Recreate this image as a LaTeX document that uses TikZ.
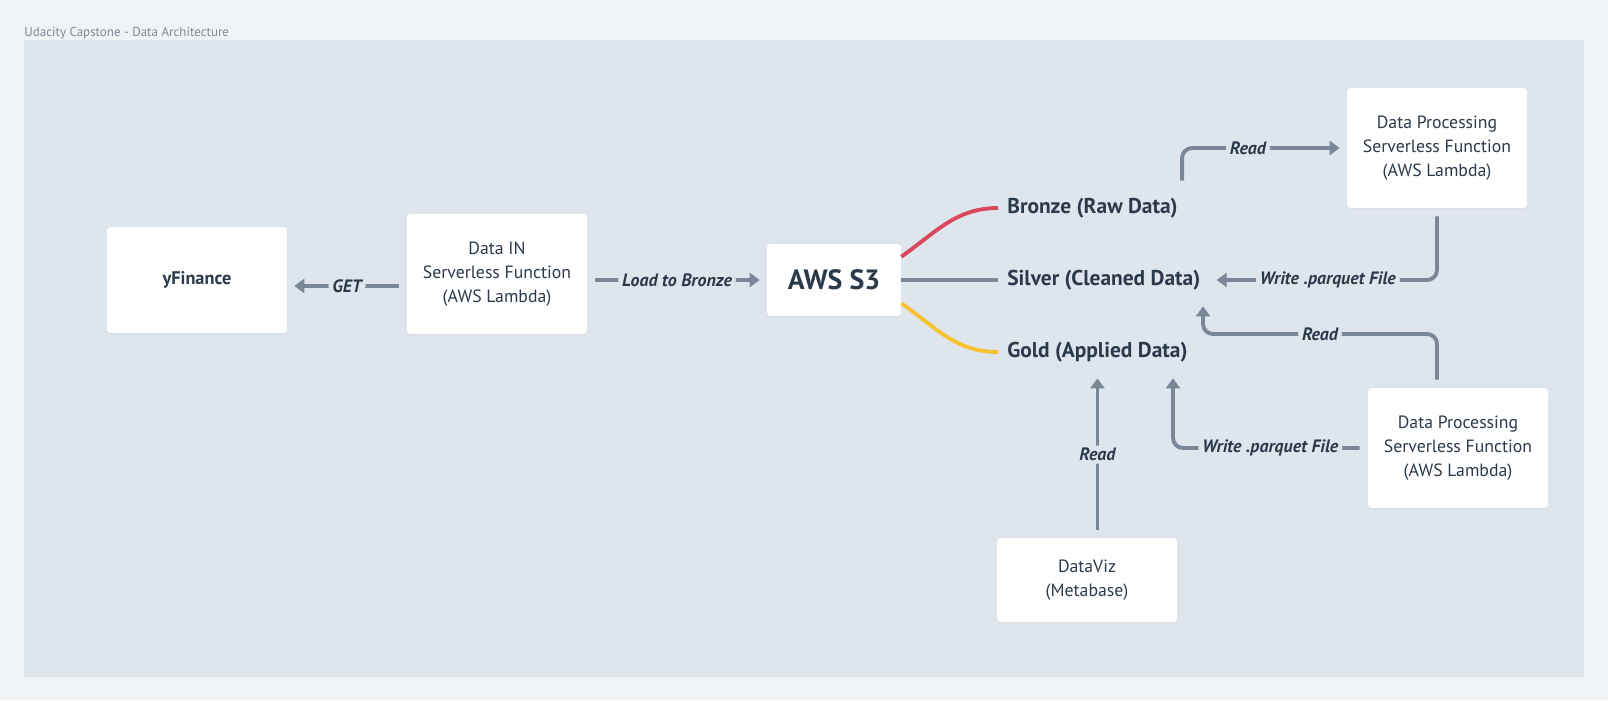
\documentclass[tikz,border=0pt]{standalone}
\usepackage{fontspec}
\setmainfont{PT Sans}
\usetikzlibrary{calc,arrows.meta,shadows}

\definecolor{outerbg}{HTML}{F0F3F6}
\definecolor{panel}{HTML}{DFE5EC}
\definecolor{ink}{HTML}{2B3A4A}
\definecolor{wire}{HTML}{7A8796}
\definecolor{titlegray}{HTML}{7E8A98}
\definecolor{bronzecol}{HTML}{D9485D}
\definecolor{goldcol}{HTML}{F7C22F}

\tikzset{
	box/.style={fill=white, rounded corners=2pt, minimum width=3.6cm, minimum height=2.4cm,
		align=center, text=ink, font=\fontsize{10.1}{13.6}\selectfont,
		drop shadow={shadow xshift=0pt, shadow yshift=-0.6pt, opacity=0.08}},
	level/.style={anchor=west, text=ink, inner sep=0.18cm, font=\bfseries\fontsize{12.2}{14}\selectfont},
	flow/.style={draw=wire, line width=2.2pt, rounded corners=0.2cm,
		-{Triangle[length=0.2cm,width=0.28cm]}, shorten >=0.14cm, shorten <=0.16cm},
	tier/.style={line width=2.2pt},
	lbl/.style={fill=panel, text=ink, inner xsep=0.08cm, inner ysep=0.05cm,
		font=\bfseries\itshape\fontsize{10.2}{12}\selectfont},
}

\begin{document}
\begin{tikzpicture}[x=0.02cm, y=-0.02cm]
	% canvas
	\useasboundingbox[fill=outerbg] (0,0) rectangle (1608,700);
	\fill[panel] (24,40) rectangle (1584,677);
	\node[anchor=west, inner sep=0pt, text=titlegray, font=\fontsize{7.4}{9}\selectfont] (title) at (24,33) {Udacity Capstone - Data Architecture};

	% boxes
	\node[box, minimum height=2.12cm, font=\bfseries\fontsize{10.4}{12}\selectfont] (yfin) at (197,280) {yFinance};
	\node[box] (din) at (497,274) {Data IN\\Serverless Function\\(AWS Lambda)};
	\node[box, minimum width=2.68cm, minimum height=1.44cm, font=\bfseries\fontsize{15.9}{18}\selectfont] (s3) at (834,280) {AWS S3};
	\node[box] (dp1) at (1437,148) {Data Processing\\Serverless Function\\(AWS Lambda)};
	\node[box] (dp2) at (1458,448) {Data Processing\\Serverless Function\\(AWS Lambda)};
	\node[box, minimum height=1.68cm] (viz) at (1087,580) {DataViz\\(Metabase)};

	% storage tiers
	\node[level] (bronze) at (998,208) {Bronze (Raw Data)};
	\node[level] (silver) at (998,280) {Silver (Cleaned Data)};
	\node[level] (gold) at (998,352) {Gold (Applied Data)};
	\draw[tier, draw=bronzecol] ($(s3.north east)+(0,13)$) to[out=35,in=180] (bronze.west);
	\draw[tier, draw=wire] (s3.east) -- (silver.west);
	\draw[tier, draw=goldcol] ($(s3.south east)+(0,-13)$) to[out=-35,in=180] (gold.west);

	% connectors
	\coordinate (getY) at (0,286);
	\coordinate (readY) at (0,334);
	\coordinate (readX) at (1203,0);
	\coordinate (writeX) at (1173,0);
	\draw[flow] (din.west |- getY) -- node[lbl] {GET} (yfin.east |- getY);
	\draw[flow] (din.east |- s3) -- node[lbl] {Load to Bronze} (s3.west);
	\draw[flow] ($(bronze.north east)+(-5,0)$) |- node[lbl, pos=0.7] {Read} (dp1.west);
	\draw[flow] (dp1.south) |- node[lbl, pos=0.74] {Write .parquet File} (silver.east);
	\draw[flow] (dp2.north -| dp1.south) |- node[lbl, pos=0.75] {Read} (readX |- readY) -- (readX |- silver.south);
	\draw[flow] (dp2.west) -| node[lbl, pos=0.25] {Write .parquet File} (writeX |- gold.south);
	\draw[flow] (viz.north -| gold.south) -- node[lbl] {Read} (gold.south);
\end{tikzpicture}
\end{document}
